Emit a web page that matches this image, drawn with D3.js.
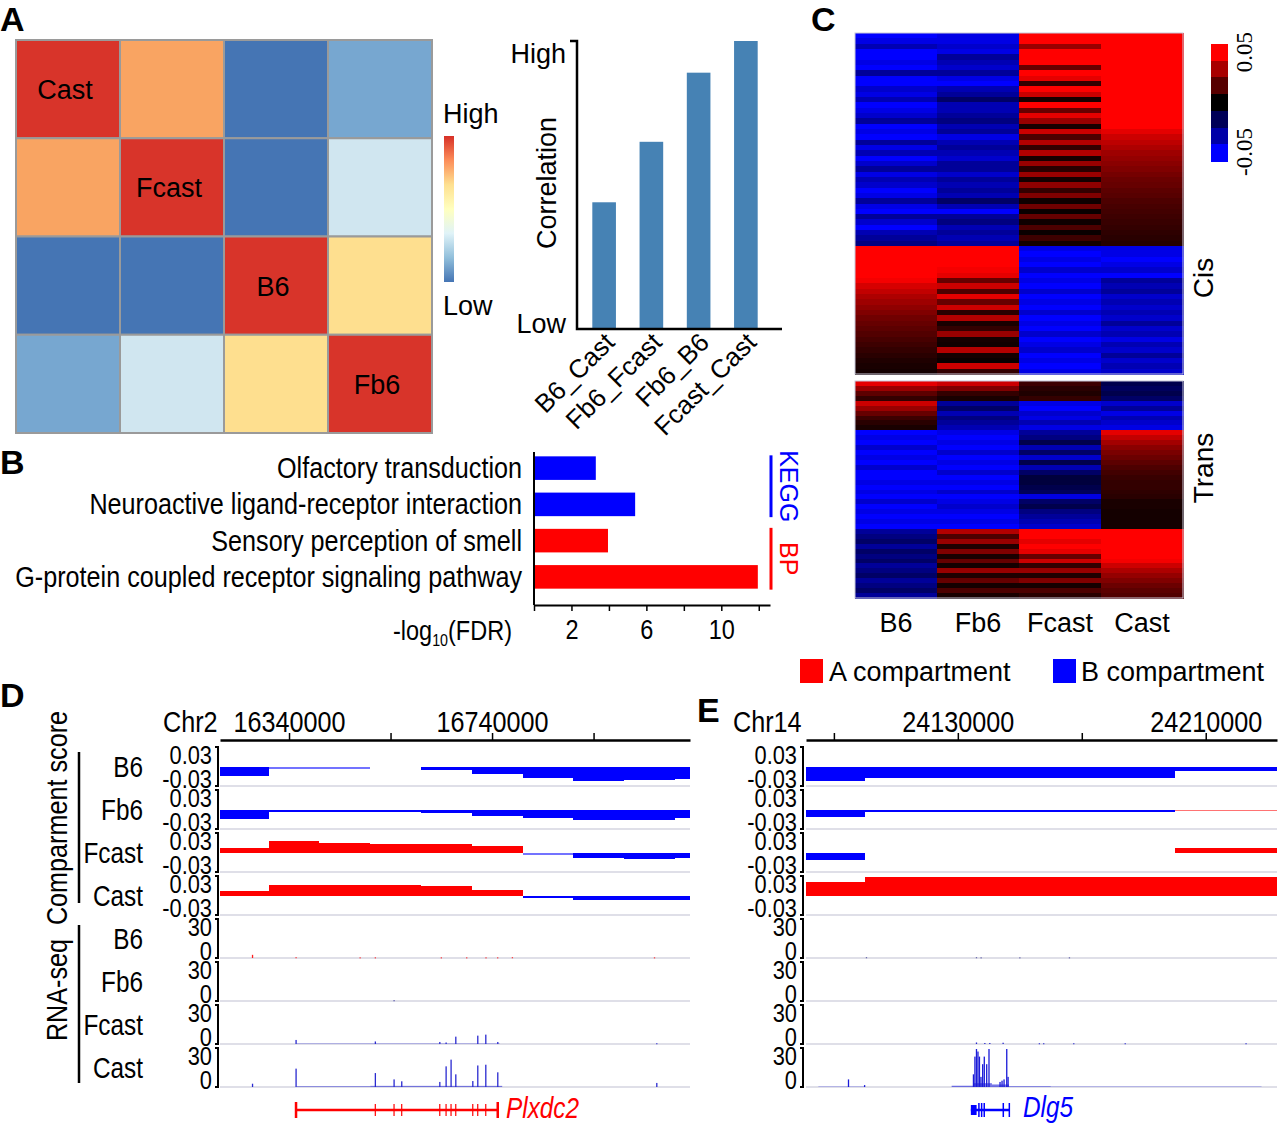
<!DOCTYPE html>
<html>
<head>
<meta charset="utf-8">
<script src="https://cdn.jsdelivr.net/npm/d3@7"></script>
<style>
  body { margin: 0; background: #fff; }
  svg { display: block; }
</style>
</head>
<body>
<script>
// ---------------- data ----------------

// A: correlation heatmap + bars
var heatSamples = ["Cast", "Fcast", "B6", "Fb6"];
var heatCorr = [
  [1.00, 0.80, 0.15, 0.30],
  [0.80, 1.00, 0.15, 0.45],
  [0.15, 0.15, 1.00, 0.60],
  [0.30, 0.45, 0.60, 1.00]
];
var pairNames = ["B6_Cast", "Fb6_Fcast", "Fb6_B6", "Fcast_Cast"];
var pairCorr = [0.44, 0.65, 0.89, 1.00];

// B: enrichment
var termNames = ["Olfactory transduction", "Neuroactive ligand-receptor interaction",
                 "Sensory perception of smell", "G-protein coupled receptor signaling pathway"];
var termFdr = [3.3, 5.4, 3.95, 11.95];
var termDb = ["KEGG", "KEGG", "BP", "BP"];
var fdrTicks = [0, 2, 4, 6, 8, 10, 12];
var fdrTickLabels = [2, 6, 10];

// C: compartment score heatmap, rows = [B6, Fb6, Fcast, Cast]
var cSamples = ["B6", "Fb6", "Fcast", "Cast"];
var cisRows = [
  [-0.05,-0.045,0.05,0.05],[-0.045,-0.045,0.05,0.05],[-0.035,-0.04,0.03,0.05],[-0.05,-0.045,0.05,0.05],
  [-0.05,-0.03,0.05,0.05],[-0.045,-0.035,0.05,0.05],[-0.05,-0.04,0.02,0.05],[-0.03,-0.03,0.05,0.05],
  [-0.05,-0.045,0.045,0.05],[-0.05,-0.05,0.01,0.05],[-0.04,-0.035,0.05,0.05],[-0.045,-0.03,0.04,0.05],
  [-0.035,-0.02,0.005,0.05],[-0.05,-0.035,0.05,0.05],[-0.045,-0.035,0.02,0.05],[-0.04,-0.03,0.045,0.05],
  [-0.03,-0.025,0.03,0.05],[-0.05,-0.035,0.005,0.05],[-0.045,-0.03,0.04,0.045],[-0.05,-0.045,0.015,0.04],
  [-0.03,-0.035,0.035,0.037],[-0.045,-0.03,0.01,0.034],[-0.035,-0.035,0.035,0.031],[-0.05,-0.04,0.005,0.029],
  [-0.04,-0.03,0.03,0.027],[-0.03,-0.03,0.008,0.025],[-0.045,-0.04,0.03,0.023],[-0.035,-0.03,0.004,0.021],
  [-0.04,-0.035,0.028,0.02],[-0.05,-0.03,0.01,0.018],[-0.045,-0.035,0.025,0.017],[-0.03,-0.02,0.003,0.015],
  [-0.045,-0.035,0.022,0.014],[-0.05,-0.05,0.002,0.013],[-0.03,-0.03,0.02,0.012],[-0.04,-0.025,0.003,0.011],
  [-0.05,-0.035,0.015,0.01],[-0.035,-0.03,0.002,0.009],[-0.03,-0.035,0.012,0.008],[-0.025,-0.03,0.004,0.007],
  [0.05,0.05,-0.045,-0.045],[0.05,0.05,-0.05,-0.045],[0.05,0.05,-0.045,-0.05],[0.05,0.05,-0.05,-0.045],
  [0.05,0.048,-0.04,-0.04],[0.05,0.045,-0.055,-0.055],[0.048,0.02,-0.045,-0.03],[0.042,0.04,-0.05,-0.035],
  [0.038,0.015,-0.04,-0.03],[0.034,0.045,-0.05,-0.04],[0.031,0.02,-0.045,-0.035],[0.028,0.04,-0.05,-0.04],
  [0.025,0.008,-0.04,-0.035],[0.022,0.035,-0.05,-0.04],[0.02,0.005,-0.045,-0.03],[0.018,0.01,-0.05,-0.04],
  [0.016,0.03,-0.04,-0.035],[0.014,0.004,-0.05,-0.045],[0.012,0.003,-0.045,-0.035],[0.01,0.035,-0.04,-0.04],
  [0.008,0.004,-0.05,-0.03],[0.006,0.002,-0.045,-0.04],[0.005,0.04,-0.05,-0.035],[0.004,0.01,-0.045,-0.04]
];
var transRows = [
  [0.045,0.04,0.012,-0.015],[0.03,0.025,0.008,-0.018],[0.018,0.01,0.006,-0.015],[0.01,0.005,0.01,-0.02],
  [0.04,-0.03,-0.045,-0.04],[0.03,-0.02,-0.05,-0.03],[0.02,-0.035,-0.04,-0.045],[0.012,-0.025,-0.045,-0.035],
  [0.008,-0.03,-0.035,-0.04],[0.005,-0.035,-0.045,-0.045],
  [-0.05,-0.045,-0.03,0.045],[-0.045,-0.05,-0.025,0.038],[-0.05,-0.045,-0.015,0.032],[-0.04,-0.05,-0.035,0.027],
  [-0.05,-0.04,-0.02,0.024],[-0.045,-0.05,-0.04,0.021],[-0.05,-0.045,-0.015,0.018],[-0.04,-0.05,-0.035,0.015],
  [-0.05,-0.04,-0.02,0.013],[-0.055,-0.055,-0.012,0.011],[-0.045,-0.045,-0.012,0.01],[-0.05,-0.05,-0.015,0.01],
  [-0.045,-0.04,-0.018,0.009],[-0.05,-0.05,-0.045,0.008],[-0.04,-0.045,-0.02,0.005],[-0.05,-0.04,-0.015,0.005],
  [-0.045,-0.045,-0.025,0.004],[-0.05,-0.05,-0.03,0.004],[-0.045,-0.045,-0.035,0.004],[-0.05,-0.05,-0.04,0.004],
  [-0.03,0.035,0.05,0.05],[-0.025,0.015,0.05,0.05],[-0.02,0.03,0.045,0.05],[-0.03,0.006,0.05,0.05],
  [-0.02,0.025,0.045,0.05],[-0.025,0.005,0.02,0.05],[-0.02,0.02,0.04,0.048],[-0.03,0.004,0.01,0.04],
  [-0.025,0.03,0.03,0.034],[-0.02,0.006,0.006,0.029],[-0.03,0.02,0.025,0.025],[-0.025,0.004,0.004,0.021],
  [-0.02,0.015,0.015,0.018],[-0.03,0.005,0.008,0.016]
];
var cLegendSteps = [0.05, 0.033, 0.017, 0, -0.017, -0.033, -0.05];

// D: chr2 browser view
var dDomain = [16204000, 17130000];
var dTicks = [16340000, 16540000, 16740000, 16940000];
var dTickLabels = [16340000, 16740000];
var dBinEdges = [16204000, 16300000, 16400000, 16500000, 16600000, 16700000,
                 16800000, 16900000, 17000000, 17100000, 17130000];
var dCompB6 = [-0.0137, -0.0006, -0.0006, null, -0.005, -0.011, -0.017, -0.022, -0.021, -0.0185];
var dCompFb6 = [-0.0137, -0.0015, -0.0015, -0.0015, -0.005, -0.009, -0.0127, -0.015, -0.015, -0.013];
var dCompFcast = [0.008, 0.0195, 0.0156, 0.0146, 0.015, 0.0112, -0.0005, -0.008, -0.0098, -0.0083];
var dCompCast = [0.0083, 0.018, 0.017, 0.017, 0.016, 0.0098, -0.003, -0.006, -0.006, -0.007];
var dRnaB6 = [[16268000,2.5],[16353800,0.6],[16480000,0.5],[16510000,0.5],[16640000,0.5],
              [16690000,0.5],[16728000,0.5],[16751000,0.5],[16780000,0.6],[17060000,0.5]];
var dRnaFb6 = [[16546900,0.6]];
var dRnaFcast = [[16353800,3.2],[16510000,2],[16637000,1.6],[16649400,1.2],[16668500,5.8],
                 [16711800,6.6],[16727600,7.4],[16751200,1.6],[17064500,0.6]];
var dRnaFcastLow = [[16355000,16755000,0.35]];
var dRnaCast = [[16268000,2.6],[16353800,14.5],[16510000,11],[16546900,6],[16562000,4.5],
                [16637000,4],[16649400,16.3],[16659200,21.6],[16668500,10],[16702000,4.7],
                [16711800,17],[16727600,17.6],[16751200,11.6],[17064500,3.2]];
var dRnaCastLow = [[16355000,16500000,0.6],[16500000,16760000,0.9]];
var dGeneExons = [16353800, 16510000, 16546900, 16562000, 16637000, 16649400,
                  16659200, 16668500, 16702000, 16711800, 16727600, 16751200];

// E: chr14 browser view
var eDomain = [24081000, 24233000];
var eTicks = [24090000, 24130000, 24170000, 24210000];
var eTickLabels = [24130000, 24210000];
var eBinEdges = [24081000, 24100000, 24200000, 24233000];
var eCompB6 = [-0.0225, -0.0175, -0.0065];
var eCompFb6 = [-0.0115, -0.0035, 0.0005];
var eCompFcast = [-0.011, null, 0.0075];
var eCompCast = [0.0225, 0.03, 0.03];
var eRnaB6 = [[24100500,0.6],[24136000,0.6],[24137500,0.5],[24150000,0.5],[24166000,0.5]];
var eRnaFb6 = [];
var eRnaFcast = [[24136000,1.2],[24138700,0.8],[24140300,0.8],[24144600,1],[24156300,0.6],
                 [24157700,0.6],[24167400,0.6],[24184000,0.6],[24223000,0.6]];
var eRnaCast = [[24094700,6],[24099900,1.5],[24135020,10],[24135500,24],[24136000,30],
                [24136480,28],[24136960,24],[24137450,8],[24138000,18],[24138520,24],
                [24139300,18],[24140040,30],[24143600,4],[24144250,5],[24144900,6],
                [24145770,30],[24146200,8]];
var eRnaCastLow = [[24085000,24100000,0.3],[24128000,24135000,1],[24135000,24141000,3],
                   [24141000,24146500,2],[24146500,24160000,0.6],[24160000,24228000,0.3]];
var eGeneSpan = [24134200, 24146620];
var eGeneThick = [24134200, 24136060];
var eGeneExons = [24136800, 24137680, 24138520, 24144670, 24146620];

// ---------------- drawing ----------------
var ARIAL = "'Liberation Sans', Arial, sans-serif";
var SERIF = "'Liberation Serif', 'Times New Roman', serif";
var SQUEEZE = 0.84;   // narrow face made by squeezing Arial-like glyphs
var RED = "#ff0000", BLUE = "#0000ff";

var svg = d3.select("body").append("svg").attr("width", 1280).attr("height", 1125);

function label(x, y, txt, size, opts) {
  opts = opts || {};
  var t = svg.append("text").text(txt)
    .attr("font-family", opts.serif ? SERIF : ARIAL).attr("font-size", size)
    .attr("fill", opts.fill || "#000")
    .attr("text-anchor", opts.anchor || "start");
  if (opts.weight) t.attr("font-weight", opts.weight);
  if (opts.italic) t.attr("font-style", "italic");
  var tf = "translate(" + x + "," + y + ")";
  if (opts.rotate) tf += " rotate(" + opts.rotate + ")";
  if (opts.narrow) tf += " scale(" + SQUEEZE + ",1)";
  t.attr("transform", tf);
  return t;
}

// panel letters
label(0, 31, "A", 34, {weight: "bold"});
label(0, 474, "B", 34, {weight: "bold"});
label(811, 31, "C", 34, {weight: "bold"});
label(0, 707, "D", 34, {weight: "bold"});
label(697, 722, "E", 34, {weight: "bold"});

// ---- A: heatmap
var hx = d3.scaleBand().domain(d3.range(4)).range([16, 432]);
var hy = d3.scaleBand().domain(d3.range(4)).range([40, 433]);
var heatColor = d3.scaleThreshold().domain([0.2, 0.4, 0.5, 0.7, 0.9])
  .range(["#4575b4", "#77a7d0", "#d0e6f0", "#fedf8f", "#f9a462", "#d8342a"]);

var cells = [];
heatCorr.forEach(function (row, i) {
  row.forEach(function (v, j) { cells.push({i: i, j: j, v: v}); });
});
svg.append("g").selectAll("rect").data(cells).enter().append("rect")
  .attr("x", function (d) { return hx(d.j); })
  .attr("y", function (d) { return hy(d.i); })
  .attr("width", hx.bandwidth()).attr("height", hy.bandwidth())
  .attr("fill", function (d) { return heatColor(d.v); })
  .attr("stroke", "#9a9a9a").attr("stroke-width", 2);
heatSamples.forEach(function (s, i) {
  label(hx(i) + hx.bandwidth() / 2 - 3, hy(i) + hy.bandwidth() / 2 + 10, s, 27, {anchor: "middle"});
});

// colour key
var grad = svg.append("defs").append("linearGradient").attr("id", "rdylbu")
  .attr("x1", 0).attr("y1", 0).attr("x2", 0).attr("y2", 1);
["#d73027", "#fc8d59", "#fee090", "#ffffbf", "#e0f3f8", "#91bfdb", "#4575b4"].forEach(function (c, i) {
  grad.append("stop").attr("offset", (i / 6 * 100) + "%").attr("stop-color", c);
});
svg.append("rect").attr("x", 444).attr("y", 136).attr("width", 10).attr("height", 146)
  .attr("fill", "url(#rdylbu)");
label(443, 123, "High", 27);
label(443, 315, "Low", 27);

// bars
var bx = d3.scaleBand().domain(pairNames).range([580.5, 769.5]).paddingInner(0.5).paddingOuter(0.25);
var by = d3.scaleLinear().domain([0, 1]).range([329, 41]);
svg.append("g").selectAll("rect").data(pairNames).enter().append("rect")
  .attr("x", function (d) { return bx(d); })
  .attr("y", function (d, i) { return by(pairCorr[i]); })
  .attr("width", bx.bandwidth())
  .attr("height", function (d, i) { return by(0) - by(pairCorr[i]); })
  .attr("fill", "#4682b4");
svg.append("path").attr("d", "M570," + by(1) + "H577V" + by(0) + "H782")
  .attr("fill", "none").attr("stroke", "#000").attr("stroke-width", 2.5);
label(566, 63, "High", 27, {anchor: "end"});
label(566, 333, "Low", 27, {anchor: "end"});
label(556, 183, "Correlation", 27, {anchor: "middle", rotate: -90});
pairNames.forEach(function (p) {
  label(bx(p) + bx.bandwidth() / 2 + 12, 344, p, 26, {anchor: "end", rotate: -45});
});

// ---- B: enrichment bars
var ex = d3.scaleLinear().domain([0, 12.6]).range([534, 770]);
var ey = d3.scaleBand().domain(termNames).range([450, 595]).paddingInner(0.35).paddingOuter(0.175);
svg.append("g").selectAll("rect").data(termNames).enter().append("rect")
  .attr("x", ex(0))
  .attr("y", function (d) { return ey(d); })
  .attr("width", function (d, i) { return ex(termFdr[i]) - ex(0); })
  .attr("height", ey.bandwidth())
  .attr("fill", function (d, i) { return termDb[i] === "KEGG" ? BLUE : RED; });
termNames.forEach(function (t) {
  label(522, ey(t) + ey.bandwidth() / 2 + 10, t, 30, {anchor: "end", narrow: true});
});
var bAxis = svg.append("g").attr("transform", "translate(0,605)")
  .call(d3.axisBottom(ex).tickValues(fdrTicks).tickSize(6).tickSizeOuter(0)
    .tickFormat(function (d) { return fdrTickLabels.indexOf(d) >= 0 ? d : ""; }));
bAxis.select(".domain").attr("stroke-width", 2);
bAxis.selectAll(".tick line").attr("stroke-width", 1.5);
bAxis.selectAll(".tick text").attr("font-family", ARIAL).attr("font-size", 28)
  .attr("y", 0).attr("dy", 0).attr("transform", "translate(0,34) scale(" + SQUEEZE + ",1)");
svg.append("line").attr("x1", 534).attr("x2", 534).attr("y1", 452).attr("y2", 605)
  .attr("stroke", "#000").attr("stroke-width", 2);
var lg = label(512, 640, "-log", 28, {anchor: "end", narrow: true});
lg.append("tspan").attr("font-size", 17).attr("dy", 6).text("10");
lg.append("tspan").attr("dy", -6).text("(FDR)");
// database brackets
["KEGG", "BP"].forEach(function (db) {
  var idx = termDb.map(function (d, i) { return d === db ? i : -1; }).filter(function (i) { return i >= 0; });
  var y0 = ey(termNames[idx[0]]) - 1, y1 = ey(termNames[idx[idx.length - 1]]) + ey.bandwidth() + 1;
  var c = db === "KEGG" ? BLUE : RED;
  svg.append("line").attr("x1", 771).attr("x2", 771).attr("y1", y0).attr("y2", y1)
    .attr("stroke", c).attr("stroke-width", 3);
  label(780, (y0 + y1) / 2, db, 25, {anchor: "middle", fill: c, rotate: 90});
});

// ---- C: compartment heatmap
var cx = d3.scaleBand().domain(cSamples).range([855, 1183]);
var cColor = d3.scaleLinear().domain([-0.05, 0, 0.05]).range([BLUE, "#000", RED]).clamp(true);
function drawBlock(rows, y0, y1) {
  var ry = d3.scaleBand().domain(d3.range(rows.length)).range([y0, y1]);
  var g = svg.append("g").attr("shape-rendering", "crispEdges");
  rows.forEach(function (r, i) {
    g.selectAll(null).data(r).enter().append("rect")
      .attr("x", function (d, j) { return cx(cSamples[j]); })
      .attr("y", ry(i)).attr("width", cx.bandwidth() + 0.5)
      .attr("height", ry.bandwidth() + 0.6)
      .attr("fill", function (d) { return cColor(d); });
  });
  svg.append("rect").attr("x", 855).attr("y", y0).attr("width", 328).attr("height", y1 - y0)
    .attr("fill", "none").attr("stroke", "#c8c8d8").attr("stroke-width", 1);
}
drawBlock(cisRows, 33, 374);
drawBlock(transRows, 381, 598);
cSamples.forEach(function (s) {
  label(cx(s) + cx.bandwidth() / 2, 632, s, 27, {anchor: "middle"});
});
label(1213, 278, "Cis", 28, {anchor: "middle", rotate: -90});
label(1213, 468, "Trans", 28, {anchor: "middle", rotate: -90});
var ky = d3.scaleBand().domain(d3.range(cLegendSteps.length)).range([44, 161]);
svg.append("g").attr("shape-rendering", "crispEdges").selectAll("rect").data(cLegendSteps).enter()
  .append("rect").attr("x", 1211).attr("width", 17)
  .attr("y", function (d, i) { return ky(i); }).attr("height", ky.bandwidth() + 0.5)
  .attr("fill", function (d) { return cColor(d); });
label(1252, 52, "0.05", 23, {anchor: "middle", serif: true, rotate: -90});
label(1252, 152, "-0.05", 23, {anchor: "middle", serif: true, rotate: -90});

// compartment legend
svg.append("rect").attr("x", 800).attr("y", 659).attr("width", 23).attr("height", 24).attr("fill", RED);
label(829, 681, "A compartment", 27);
svg.append("rect").attr("x", 1053).attr("y", 659).attr("width", 23).attr("height", 24).attr("fill", BLUE);
label(1081, 681, "B compartment", 27);

// ---- D / E: genome browser panels
var TRACK0 = 743, TRACKH = 43;
function trackTop(i) { return TRACK0 + TRACKH * i; }

function drawBrowser(o) {
  var x = d3.scaleLinear().domain(o.domain).range([o.x0, o.x1]);
  var ax = svg.append("g").attr("transform", "translate(0,740)")
    .call(d3.axisTop(x).tickValues(o.ticks).tickSize(7).tickSizeOuter(0)
      .tickFormat(function (d) { return o.tickLabels.indexOf(d) >= 0 ? d : ""; }));
  ax.select(".domain").attr("stroke-width", 2.5);
  ax.selectAll(".tick line").attr("stroke-width", 1.5);
  ax.selectAll(".tick text").attr("font-family", ARIAL).attr("font-size", 30)
    .attr("y", 0).attr("dy", 0).attr("transform", "translate(0,-8) scale(" + SQUEEZE + ",1)");
  label(o.chrX, 732, o.chr, 30, {narrow: true});

  for (var i = 0; i < 8; i++) {
    var top = trackTop(i);
    svg.append("line").attr("x1", o.x0).attr("x2", o.x1).attr("y1", top + TRACKH).attr("y2", top + TRACKH)
      .attr("stroke", "#d4d4e0").attr("stroke-width", 1.5);
    var lab = i < 4 ? ["0.03", "-0.03"] : ["30", "0"];
    label(o.yLabX, top + 21, lab[0], 26, {anchor: "end", narrow: true});
    label(o.yLabX, top + 45, lab[1], 26, {anchor: "end", narrow: true});
    var bx0 = o.yLabX + 3;
    svg.append("path").attr("d", "M" + bx0 + "," + (top + 4) + "H" + (bx0 + 3) + "V" + (top + 43) + "H" + bx0)
      .attr("fill", "none").attr("stroke", "#000").attr("stroke-width", 2);
  }

  // compartment scores
  o.comp.forEach(function (vals, k) {
    var top = trackTop(k);
    var y = d3.scaleLinear().domain([-0.03, 0.03]).range([top + 43, top + 5]).clamp(true);
    var bins = vals.map(function (v, b) { return {v: v, s: o.edges[b], e: o.edges[b + 1]}; })
      .filter(function (d) { return d.v !== null; });
    svg.append("g").attr("shape-rendering", "crispEdges").selectAll("rect").data(bins).enter().append("rect")
      .attr("x", function (d) { return x(d.s); })
      .attr("width", function (d) { return x(d.e) - x(d.s); })
      .attr("y", function (d) { return Math.min(y(d.v), y(0)); })
      .attr("height", function (d) { return Math.max(1.5, Math.abs(y(d.v) - y(0))); })
      .attr("fill", function (d) { return d.v >= 0 ? RED : BLUE; })
      .attr("opacity", function (d) { return Math.abs(d.v) < 0.001 ? 0.55 : 1; });
  });

  // RNA-seq
  o.rna.forEach(function (tr, k) {
    var top = trackTop(4 + k);
    var y = d3.scaleLinear().domain([0, 30]).range([top + 43, top + 5]).clamp(true);
    var g = svg.append("g");
    g.selectAll(".low").data(tr.low || []).enter().append("rect")
      .attr("x", function (d) { return x(d[0]); })
      .attr("width", function (d) { return x(d[1]) - x(d[0]); })
      .attr("y", function (d) { return y(d[2]); })
      .attr("height", function (d) { return y(0) - y(d[2]); })
      .attr("fill", tr.color).attr("opacity", 0.6);
    g.selectAll(".spike").data(tr.spikes).enter().append("rect")
      .attr("x", function (d) { return x(d[0]) - 0.6; })
      .attr("width", 1.3)
      .attr("y", function (d) { return y(d[1]); })
      .attr("height", function (d) { return Math.max(1, y(0) - y(d[1])); })
      .attr("fill", tr.color);
  });
}

drawBrowser({
  domain: dDomain, x0: 220, x1: 690, ticks: dTicks, tickLabels: dTickLabels,
  chr: "Chr2", chrX: 163, yLabX: 212, edges: dBinEdges,
  comp: [dCompB6, dCompFb6, dCompFcast, dCompCast],
  rna: [
    {spikes: dRnaB6, color: "#ff2020"},
    {spikes: dRnaFb6, color: "#4040a0"},
    {spikes: dRnaFcast, low: dRnaFcastLow, color: "#2a2ad0"},
    {spikes: dRnaCast, low: dRnaCastLow, color: "#2a2ad0"}
  ]
});
drawBrowser({
  domain: eDomain, x0: 806, x1: 1277, ticks: eTicks, tickLabels: eTickLabels,
  chr: "Chr14", chrX: 733, yLabX: 797, edges: eBinEdges,
  comp: [eCompB6, eCompFb6, eCompFcast, eCompCast],
  rna: [
    {spikes: eRnaB6, color: "#5050a0"},
    {spikes: eRnaFb6, color: "#5050a0"},
    {spikes: eRnaFcast, color: "#2a2ad0"},
    {spikes: eRnaCast, low: eRnaCastLow, color: "#1a1ad8"}
  ]
});

// track labels + group brackets (shared by D and E)
["B6", "Fb6", "Fcast", "Cast", "B6", "Fb6", "Fcast", "Cast"].forEach(function (s, i) {
  label(143, trackTop(i) + 34, s, 29, {anchor: "end", narrow: true});
});
svg.append("line").attr("x1", 79).attr("x2", 79).attr("y1", 752).attr("y2", 903)
  .attr("stroke", "#000").attr("stroke-width", 2.5);
svg.append("line").attr("x1", 79).attr("x2", 79).attr("y1", 925).attr("y2", 1083)
  .attr("stroke", "#000").attr("stroke-width", 2.5);
label(67, 818, "Comparment score", 30, {anchor: "middle", narrow: true, rotate: -90});
label(67, 990, "RNA-seq", 30, {anchor: "middle", narrow: true, rotate: -90});

// genes
var gxD = d3.scaleLinear().domain(dDomain).range([220, 690]);
var GY = 1110;
svg.append("line").attr("x1", gxD(dGeneExons[0])).attr("x2", gxD(dGeneExons[dGeneExons.length - 1]))
  .attr("y1", GY).attr("y2", GY).attr("stroke", RED).attr("stroke-width", 2.5);
svg.append("g").selectAll("line").data(dGeneExons).enter().append("line")
  .attr("x1", function (d) { return gxD(d); }).attr("x2", function (d) { return gxD(d); })
  .attr("y1", function (d, i) { return i === 0 || i === dGeneExons.length - 1 ? GY - 8 : GY - 6; })
  .attr("y2", function (d, i) { return i === 0 || i === dGeneExons.length - 1 ? GY + 8 : GY + 6; })
  .attr("stroke", RED)
  .attr("stroke-width", function (d, i) { return i === 0 || i === dGeneExons.length - 1 ? 2.5 : 1.2; });
label(506, 1118, "Plxdc2", 29, {narrow: true, italic: true, fill: RED});

var gxE = d3.scaleLinear().domain(eDomain).range([806, 1277]);
svg.append("line").attr("x1", gxE(eGeneSpan[0])).attr("x2", gxE(eGeneSpan[1]))
  .attr("y1", GY).attr("y2", GY).attr("stroke", BLUE).attr("stroke-width", 2.5);
svg.append("rect").attr("x", gxE(eGeneThick[0])).attr("width", gxE(eGeneThick[1]) - gxE(eGeneThick[0]))
  .attr("y", GY - 5).attr("height", 10).attr("fill", BLUE);
svg.append("g").selectAll("line").data(eGeneExons).enter().append("line")
  .attr("x1", function (d) { return gxE(d); }).attr("x2", function (d) { return gxE(d); })
  .attr("y1", GY - 7).attr("y2", GY + 7).attr("stroke", BLUE).attr("stroke-width", 1.5);
label(1023, 1117, "Dlg5", 29, {narrow: true, italic: true, fill: BLUE});
</script>
</body>
</html>
